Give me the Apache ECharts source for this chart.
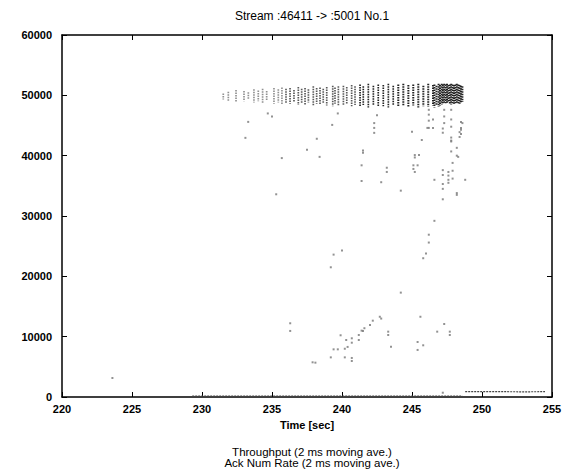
<!DOCTYPE html>
<html>
<head>
<meta charset="utf-8">
<script src="https://cdn.jsdelivr.net/npm/echarts@6/dist/echarts.min.js"></script>
<style>
  html, body { margin: 0; padding: 0; background: #fff; }
  #chart { width: 577px; height: 476px; }
</style>
</head>
<body>
<div id="chart"></div>
<script>
// Throughput band: each stripe is a time with the low/high edge of the moving average
const bandTimes = [231.52, 231.88, 232.43, 233.0, 233.31, 233.71, 234.02, 234.33, 234.62, 235.14,
  235.45, 235.71, 236.0, 236.29, 236.57, 236.88, 237.12, 237.36, 237.6, 237.95,
  238.19, 238.43, 238.66, 238.91, 239.34, 239.5, 239.74, 240.1, 240.34, 240.69,
  240.93, 241.29, 241.52, 241.88, 242.24, 242.59, 242.95, 243.31, 243.66, 244.02,
  244.38, 244.74, 245.09, 245.45, 245.81, 246.16, 246.5, 246.6, 246.75, 246.9,
  247.0, 247.12, 247.2, 247.3, 247.4, 247.5, 247.6, 247.7, 247.8, 247.9,
  248.0, 248.1, 248.2, 248.31, 248.4, 248.5, 248.6];
const bandLow = [49300, 49100, 48900, 49000, 49300, 48800, 49000, 48700, 49100, 48600,
  48800, 48500, 48700, 48600, 48900, 48400, 48700, 48500, 48800, 48300,
  48600, 48400, 48700, 48300, 48200, 48600, 48200, 48300, 48500, 48200,
  48400, 48100, 48400, 48000, 48300, 48100, 48200, 48000, 48300, 48100,
  48200, 48000, 48300, 48000, 48200, 48100, 48300, 48000, 48400, 48100,
  48300, 48500, 48700, 48600, 48700, 48600, 48800, 48600, 48500, 48700,
  48600, 48700, 48600, 48700, 48600, 48800, 48900];
const bandHigh = [50300, 50600, 50900, 50700, 50500, 51000, 50800, 51100, 50700, 51200,
  51000, 51300, 51100, 51200, 50900, 51400, 51100, 51200, 51000, 51500,
  51200, 51300, 51100, 51400, 51600, 51300, 51500, 51600, 51400, 51700,
  51500, 51800, 51500, 51900, 51600, 51800, 51700, 51900, 51600, 51800,
  51900, 51700, 51800, 51900, 51600, 51900, 51700, 51800, 51600, 51900,
  51700, 51900, 51800, 51900, 51800, 51900, 51700, 51800, 51900, 51800,
  51700, 51800, 51900, 51800, 51700, 51600, 51500];

// Isolated throughput samples away from the main band
const outlierTimes = [233.1, 238.2, 242.3, 245.0, 247.2, 248.4, 248.4,
  237.5, 235.7, 238.4, 241.5, 241.5, 245.7, 247.8, 247.8, 247.8, 248.2, 248.2, 245.2, 245.5, 245.2,
  241.4, 243.2, 245.1, 245.4, 245.1, 243.2, 245.2, 241.4, 242.8, 244.2,
  247.2, 247.2, 247.2, 247.2, 247.6, 247.6, 247.6, 247.6, 247.9, 247.9, 247.9,
  248.2, 248.2, 248.8, 246.6, 247.2, 235.3, 246.6, 246.2, 246.2, 246.0, 245.8,
  239.4, 240.0, 239.2, 244.2,
  246.2, 246.2, 246.2, 246.2, 247.3, 247.3, 247.3, 247.8, 248.6, 246.1, 247.2, 248.5, 248.5, 247.8, 248.3,
  233.3, 235.0, 234.7, 239.3, 239.7, 242.3, 242.3, 242.5, 246.5, 246.5, 247.8, 247.8, 248.5, 248.5,
  242.7, 242.8, 242.2, 242.0, 241.6, 241.4, 241.5, 241.2, 241.2, 240.7, 240.7, 240.4, 240.2, 240.2,
  240.7, 240.7, 239.7, 239.4, 239.2, 238.1, 239.9, 240.3, 243.3, 243.3, 243.5, 245.6, 246.8, 247.3,
  247.7, 247.7, 245.8, 245.4, 245.4, 236.3, 236.3, 237.9, 247.2, 223.6];
const outlierValues = [42950, 42800, 43780, 43950, 43800, 43900, 43100,
  40960, 39600, 39800, 40850, 40500, 42600, 43000, 42500, 40700, 41300, 40000, 40100, 40100, 39700,
  38400, 38000, 38400, 38400, 37800, 37300, 37300, 35800, 35600, 34200,
  37600, 36800, 35300, 34500, 37300, 36700, 36000, 35500, 38800, 37500, 36200,
  33800, 33500, 36000, 36000, 32770, 33600, 29200, 26900, 25600, 23800, 23000,
  23600, 24300, 21500, 17300,
  47600, 46800, 45800, 44600, 47600, 46500, 45400, 47600, 45400, 44600, 44500, 44300, 43600, 42350, 39800,
  45600, 46500, 47000, 45100, 47000, 45400, 44600, 46700, 46000, 44600, 46000, 44800, 45600, 44600,
  13300, 13000, 12650, 11940, 11400, 11000, 10950, 10280, 9450, 9730, 9000, 8300, 8000, 6570,
  6470, 5970, 7900, 7900, 6570, 5690, 10230, 9450, 10830, 10280, 8330, 13300, 10830, 12100,
  10830, 10280, 8570, 9120, 7800, 12220, 10950, 5750, 710, 3150];

// Ack number rate: near zero during the transfer, then a flat tail
const ackTimes = [229.3, 236.0, 242.0, 248.6, 248.7, 248.8, 250.0, 251.5, 253.0, 254.5];
const ackRates = [150, 150, 150, 150, null, 880, 900, 880, 860, 880];

const chartTitle = 'Stream :46411 -> :5001 No.1';
const throughputName = 'Throughput (2 ms moving ave.)';
const ackName = 'Ack Num Rate (2 ms moving ave.)';

const xMin = 220, xMax = 255, xStep = 5;
const yMin = 0, yMax = 60000, yStep = 10000;

const FONT = '"Liberation Sans", Arial, Helvetica, sans-serif';

const bandData = bandTimes.map((t, i) => [t, bandLow[i], bandHigh[i]]);
const outlierData = outlierTimes.map((t, i) => [t, outlierValues[i]]);
const ackData = ackTimes.map((t, i) => [t, ackRates[i] === null ? '-' : ackRates[i]]);

const chart = echarts.init(document.getElementById('chart'), null, { renderer: 'svg' });

const tickLabel = { color: '#000', fontSize: 11, fontFamily: FONT, fontWeight: 'bold',
  formatter: v => String(v) };
const axisLine = { show: true, onZero: false, lineStyle: { color: '#000', width: 1.5 } };
const axisTick = { show: true, inside: true, length: 5, lineStyle: { color: '#000', width: 1 } };

chart.setOption({
  animation: false,
  backgroundColor: '#fff',
  title: [
    { text: chartTitle, left: 307, top: 5, textAlign: 'center',
      textStyle: { fontSize: 12, fontWeight: 'normal', color: '#000', fontFamily: FONT } },
    { text: throughputName, left: 307, top: 441, textAlign: 'center',
      textStyle: { fontSize: 11.5, fontWeight: 'normal', color: '#000', fontFamily: FONT } },
    { text: ackName, left: 307, top: 452, textAlign: 'center',
      textStyle: { fontSize: 11.5, fontWeight: 'normal', color: '#000', fontFamily: FONT } }
  ],
  grid: { left: 62, right: 25, top: 35, bottom: 79 },
  xAxis: [
    { type: 'value', min: xMin, max: xMax, interval: xStep, position: 'bottom',
      axisLine: axisLine, axisTick: axisTick, splitLine: { show: false },
      axisLabel: Object.assign({ margin: 6 }, tickLabel),
      name: 'Time [sec]', nameLocation: 'middle', nameGap: 22,
      nameTextStyle: { color: '#000', fontSize: 11, fontFamily: FONT, fontWeight: 'bold' } },
    { type: 'value', min: xMin, max: xMax, interval: xStep, position: 'top',
      axisLine: axisLine, axisTick: axisTick, splitLine: { show: false },
      axisLabel: { show: false } }
  ],
  yAxis: [
    { type: 'value', min: yMin, max: yMax, interval: yStep, position: 'left',
      axisLine: axisLine, axisTick: axisTick, splitLine: { show: false },
      axisLabel: Object.assign({ margin: 10 }, tickLabel) },
    { type: 'value', min: yMin, max: yMax, interval: yStep, position: 'right',
      axisLine: axisLine, axisTick: axisTick, splitLine: { show: false },
      axisLabel: { show: false } }
  ],
  series: [
    {
      name: throughputName,
      type: 'custom',
      xAxisIndex: 0, yAxisIndex: 0,
      clip: true,
      data: bandData,
      renderItem: function (params, api) {
        const t = api.value(0);
        const hi = api.coord([t, api.value(2)]);
        const lo = api.coord([t, api.value(1)]);
        // early part of the transfer is sparser, so its stripes are fainter
        const fade = t < 236 ? 0.5 : (t < 241 ? 0.75 : 1);
        return {
          type: 'line',
          shape: { x1: hi[0], y1: hi[1], x2: lo[0], y2: lo[1] },
          style: { stroke: '#222', opacity: fade, lineWidth: t > 244 ? 2 : 1.7, lineDash: [1.5, 1] }
        };
      }
    },
    {
      name: throughputName + ' ',
      type: 'scatter',
      xAxisIndex: 0, yAxisIndex: 0,
      symbol: 'rect',
      symbolSize: 2,
      itemStyle: { color: '#777' },
      data: outlierData
    },
    {
      name: ackName,
      type: 'line',
      xAxisIndex: 0, yAxisIndex: 0,
      showSymbol: false,
      connectNulls: false,
      lineStyle: { color: '#444', width: 1.2, type: [2, 1] },
      data: ackData
    }
  ]
});
</script>
</body>
</html>
